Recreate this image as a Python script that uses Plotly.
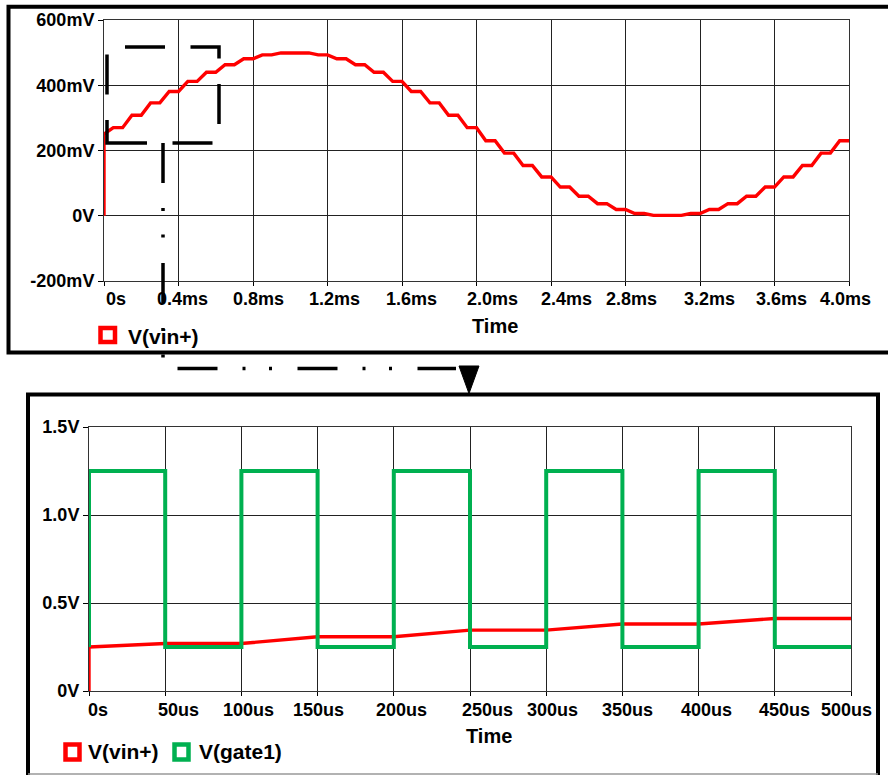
import plotly.graph_objects as go

W, H = 888, 775

# ---------------- data ----------------
# Top panel: V(vin+) over 0..4 ms (sample & hold staircase)
vin_start_mV = 250            # value right after t = 0
track_end_ms = [0.05, 0.15, 0.25, 0.35, 0.45, 0.55, 0.65, 0.75, 0.85, 0.95,
                1.05, 1.15, 1.25, 1.35, 1.45, 1.55, 1.65, 1.75, 1.85, 1.95,
                2.05, 2.15, 2.25, 2.35, 2.45, 2.55, 2.65, 2.75, 2.85, 2.95,
                3.05, 3.15, 3.25, 3.35, 3.45, 3.55, 3.65, 3.75, 3.85, 3.95]
hold_end_ms = [0.1, 0.2, 0.3, 0.4, 0.5, 0.6, 0.7, 0.8, 0.9, 1.0,
               1.1, 1.2, 1.3, 1.4, 1.5, 1.6, 1.7, 1.8, 1.9, 2.0,
               2.1, 2.2, 2.3, 2.4, 2.5, 2.6, 2.7, 2.8, 2.9, 3.0,
               3.1, 3.2, 3.3, 3.4, 3.5, 3.6, 3.7, 3.8, 3.9, 4.0]
held_mV = [270, 308, 346, 381, 412, 440, 463, 481, 493, 499,
           499, 493, 481, 463, 440, 412, 381, 346, 308, 270,
           230, 192, 154, 119, 88, 60, 37, 19, 7, 1,
           1, 7, 19, 37, 60, 88, 119, 154, 192, 230]

top_xticks_ms = [0, 0.4, 0.8, 1.2, 1.6, 2.0, 2.4, 2.8, 3.2, 3.6, 4.0]
top_xticklabels = ["0s", "0.4ms", "0.8ms", "1.2ms", "1.6ms", "2.0ms",
                   "2.4ms", "2.8ms", "3.2ms", "3.6ms", "4.0ms"]
top_yticks_mV = [-200, 0, 200, 400, 600]
top_yticklabels = ["-200mV", "0V", "200mV", "400mV", "600mV"]

# Bottom panel: zoom 0..500 us
zoom_vin_t_us = [0, 0, 50, 100, 150, 200, 250, 300, 350, 400, 450, 500]
zoom_vin_V = [0, 0.25, 0.270, 0.270, 0.308, 0.308, 0.346, 0.346, 0.381, 0.381, 0.412, 0.412]
gate_t_us = [0, 0, 50, 100, 150, 200, 250, 300, 350, 400, 450, 500]
gate_V = [0.25, 1.25, 0.25, 1.25, 0.25, 1.25, 0.25, 1.25, 0.25, 1.25, 0.25, 0.25]

bot_xticks_us = [0, 50, 100, 150, 200, 250, 300, 350, 400, 450, 500]
bot_xticklabels = ["0s", "50us", "100us", "150us", "200us", "250us",
                   "300us", "350us", "400us", "450us", "500us"]
bot_yticks_V = [0, 0.5, 1.0, 1.5]
bot_yticklabels = ["0V", "0.5V", "1.0V", "1.5V"]

# ---------------- styling helpers ----------------
FONT = "Liberation Sans, Arial, sans-serif"
RED = "#FF0000"
GREEN = "#00B050"
top_label_shift = [11.5, 4, 5.5, 7, 9.5, 16, 15.5, 6, 9.6, 6.6, -3.4]
bot_label_shift = [9, 13.5, 7, 1, 7.7, 17.5, 6, 5.5, 7.7, 9.5, -4.3]


def px(x):
    return x / W


def py(y):
    return 1 - y / H


# build top trace path
top_t = [0, 0]
top_v = [0, vin_start_mV]
for te, th, v in zip(track_end_ms, hold_end_ms, held_mV):
    top_t += [te, th]
    top_v += [v, v]

fig = go.Figure()
fig.add_trace(go.Scatter(x=top_t, y=top_v, mode="lines",
                         line=dict(color=RED, width=3.4),
                         xaxis="x", yaxis="y", showlegend=False))
fig.add_trace(go.Scatter(x=zoom_vin_t_us, y=zoom_vin_V, mode="lines",
                         line=dict(color=RED, width=3.4),
                         xaxis="x2", yaxis="y2", showlegend=False))
fig.add_trace(go.Scatter(x=gate_t_us, y=gate_V, mode="lines", line_shape="hv",
                         line=dict(color=GREEN, width=4),
                         xaxis="x2", yaxis="y2", showlegend=False))

axis_common = dict(showgrid=True, gridcolor="#222", gridwidth=1,
                   showline=True, linecolor="#333", linewidth=1, mirror=True,
                   zeroline=False, ticks="outside", tickcolor="#000",
                   tickwidth=1, fixedrange=True, automargin=False)
tickfont = dict(family=FONT, size=18, color="#000", weight="bold")

fig.update_layout(
    width=W, height=H, autosize=False,
    margin=dict(l=0, r=0, t=0, b=0, pad=0, autoexpand=False),
    paper_bgcolor="white", plot_bgcolor="white",
    font=dict(family=FONT, size=18, color="#000"),
    xaxis=dict(domain=[px(104), px(849)], range=[0, 4], tickvals=top_xticks_ms,
               showticklabels=False, ticklen=4, anchor="y", **axis_common),
    yaxis=dict(domain=[py(281), py(20)], range=[-200, 600], tickvals=top_yticks_mV,
               ticktext=top_yticklabels, tickfont=tickfont, ticklen=5,
               anchor="x", **axis_common),
    xaxis2=dict(domain=[px(89), px(851)], range=[0, 500], tickvals=bot_xticks_us,
                showticklabels=False, ticklen=4, anchor="y2", **axis_common),
    yaxis2=dict(domain=[py(691), py(427)], range=[0, 1.5], tickvals=bot_yticks_V,
                ticktext=bot_yticklabels, tickfont=tickfont, ticklen=5,
                anchor="x2", **axis_common),
)

ann = []
for v, lab, sh in zip(top_xticks_ms, top_xticklabels, top_label_shift):
    ann.append(dict(x=v, xref="x", y=py(299), yref="paper", text=lab, xshift=sh,
                    showarrow=False, xanchor="center", yanchor="middle",
                    font=tickfont))
for v, lab, sh in zip(bot_xticks_us, bot_xticklabels, bot_label_shift):
    ann.append(dict(x=v, xref="x2", y=py(710), yref="paper", text=lab, xshift=sh,
                    showarrow=False, xanchor="center", yanchor="middle",
                    font=tickfont))
title_font = dict(family=FONT, size=20, color="#000", weight="bold")
ann.append(dict(x=px(494.5), y=py(326), xref="paper", yref="paper", text="Time",
                showarrow=False, xanchor="center", yanchor="middle", font=title_font))
ann.append(dict(x=px(489), y=py(736), xref="paper", yref="paper", text="Time",
                showarrow=False, xanchor="center", yanchor="middle", font=title_font))
legend_font = dict(family=FONT, size=21, color="#000", weight="bold")
ann.append(dict(x=px(126), y=py(336), xref="paper", yref="paper", text="V(vin+)",
                showarrow=False, xanchor="left", yanchor="middle", font=legend_font))
ann.append(dict(x=px(86), y=py(751), xref="paper", yref="paper", text="V(vin+)",
                showarrow=False, xanchor="left", yanchor="middle", font=legend_font))
ann.append(dict(x=px(197), y=py(751), xref="paper", yref="paper", text="V(gate1)",
                showarrow=False, xanchor="left", yanchor="middle", font=legend_font))

shapes = []
# outer frames
shapes.append(dict(type="rect", xref="paper", yref="paper",
                   x0=px(8.5), x1=px(905), y0=py(6.7), y1=py(352.5),
                   line=dict(color="#000", width=4)))
shapes.append(dict(type="rect", xref="paper", yref="paper",
                   x0=px(28), x1=px(878), y0=py(394.5), y1=py(790),
                   line=dict(color="#000", width=4)))
shapes.append(dict(type="line", xref="paper", yref="paper",
                   x0=px(28), x1=px(878), y0=py(774), y1=py(774),
                   line=dict(color="#999", width=1.5)))
# legend squares
for (x0, x1, y0, y1, c) in [(100.5, 115, 328, 342, RED),
                            (65.5, 79.5, 744.5, 759.5, RED),
                            (174.5, 188.5, 744.5, 759.5, GREEN)]:
    shapes.append(dict(type="rect", xref="paper", yref="paper",
                       x0=px(x0), x1=px(x1), y0=py(y0), y1=py(y1),
                       line=dict(color=c, width=4.5)))


def path(pts, close=False):
    s = "M " + " L ".join(f"{px(a):.6f},{py(b):.6f}" for a, b in pts)
    return s + (" Z" if close else "")


# zoom rectangle (long dash)
shapes.append(dict(type="path", xref="paper", yref="paper",
                   path=path([(107, 143), (219, 143), (219, 47), (107, 47)], close=True),
                   line=dict(color="#000", width=3.5, dash="40px,25.5px")))
# dash-dot-dot connector
shapes.append(dict(type="path", xref="paper", yref="paper",
                   path=path([(163, 143), (163, 368.5), (456, 368.5)]),
                   line=dict(color="#000", width=3.5,
                             dash="40px,25px,3px,23.5px,3px,25.5px")))
# arrow head
shapes.append(dict(type="path", xref="paper", yref="paper",
                   path=path([(459, 366), (479, 366), (469, 393.5)], close=True),
                   fillcolor="#000", line=dict(color="#000", width=1)))

fig.update_layout(annotations=ann, shapes=shapes)
fig.write_html("out.html", config={"displayModeBar": False},
               post_script="document.documentElement.style.margin='0';"
                           "document.body.style.margin='0';"
                           "document.body.style.overflow='hidden';")
